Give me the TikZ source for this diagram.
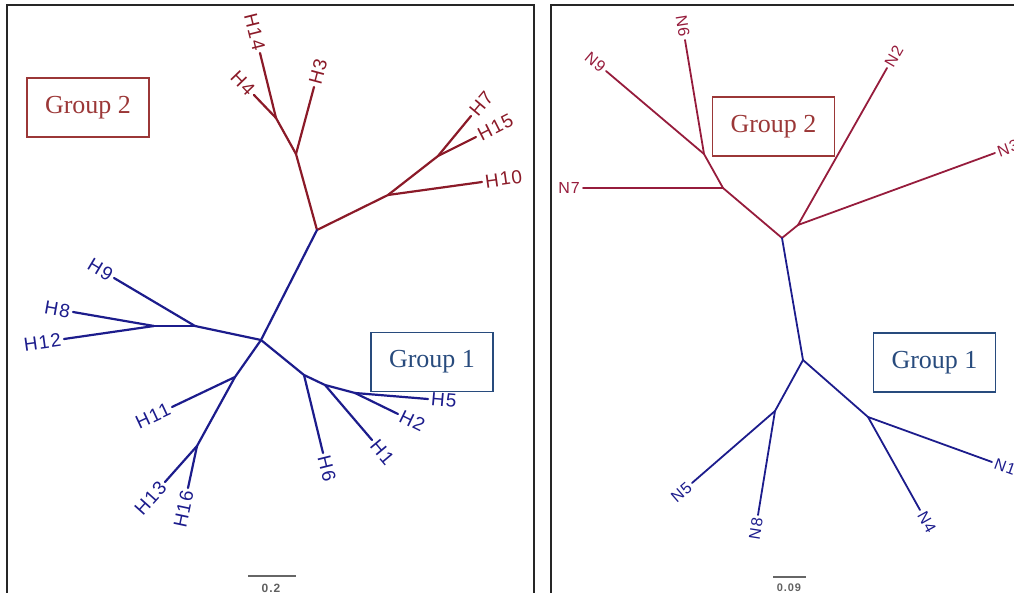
\documentclass[tikz,border=0pt]{standalone}
\usepackage{fontspec}
\setmainfont{Liberation Serif}
\newfontfamily\tipfont[LetterSpace=6]{Liberation Sans}
\newfontfamily\barfont[LetterSpace=8]{Liberation Sans}
\usepackage{tikz}
\usetikzlibrary{positioning,calc}
\definecolor{grpred}{RGB}{139,26,40}
\definecolor{grpredB}{RGB}{150,28,60}
\definecolor{grpblue}{RGB}{28,28,140}
\definecolor{boxred}{RGB}{155,55,55}
\definecolor{boxblue}{RGB}{40,75,125}
\tikzset{
  brR/.style={draw=grpred, line width=2.2pt},
  brB/.style={draw=grpblue, line width=2.2pt},
  brRs/.style={draw=grpredB, line width=1.8pt},
  brBs/.style={draw=grpblue, line width=1.8pt},
  tipL/.style={font=\tipfont\fontsize{19}{19}\selectfont, inner sep=3pt},
  tipS/.style={font=\tipfont\fontsize{16}{16}\selectfont, inner sep=3pt},
  grpbox/.style={draw, line width=1.3pt, minimum width=122pt, minimum height=59pt,
                 inner sep=0pt, font=\fontsize{26}{26}\selectfont},
  grptwo/.style={grpbox, draw=boxred, text=boxred},
  grpone/.style={grpbox, draw=boxblue, text=boxblue},
  sbar/.style={draw=gray!80!black, line width=1.5pt},
  slbl/.style={font=\barfont\bfseries\fontsize{12}{12}\selectfont, text=gray!75!black, inner sep=1pt},
  frame/.style={draw=black!85, line width=2pt}
}

\begin{document}
\begin{tikzpicture}[x=1pt, y=-1pt]
    \useasboundingbox (0,0) rectangle (1014,593);
    % panel frames
    \draw[frame] (7,600) |- (534,5) -- (534,600);
    \draw[frame] (551,600) |- (1020,5);

    % left tree: inner nodes and tips
    \foreach \n/\x/\y in {r2/317/230, a/296/154, b/276/118, d/388/195, e/438/156,
        c/261/340, f/195/326, g/154/326, i/235/377, j/197/446, k/304/375, l/325/385, m/355/393,
        H14/260/53, H4/254/95, H3/314/87, H7/471/116, H15/476/137, H10/482/182,
        H9/114/278, H8/73/312, H12/64/339, H11/172/407, H13/165/482, H16/188/488,
        H6/323/453, H1/372/440, H2/398/414, H5/428/399}
      \coordinate (\n) at (\x,\y);
    \foreach \s/\t in {r2/a, a/b, b/H14, b/H4, a/H3, r2/d, d/e, e/H7, e/H15, d/H10}
      \draw[brR, line cap=round] (\s) -- (\t);
    \foreach \s/\t in {r2/c, c/f, f/H9, f/g, g/H8, g/H12, c/i, i/H11, i/j, j/H13, j/H16,
        c/k, k/H6, k/l, l/H1, l/m, m/H2, m/H5}
      \draw[brB, line cap=round] (\s) -- (\t);
    % tip labels, outward ones then the turned ones
    \foreach \t/\a in {H3/75, H7/50, H15/27, H10/8}
      \node[tipL, text=grpred, anchor=west, rotate=\a] (l\t) at (\t) {\t};
    \foreach \t/\a in {H14/-76, H4/-46}
      \node[tipL, text=grpred, anchor=east, rotate=\a] (l\t) at (\t) {\t};
    \foreach \t/\a in {H6/-76, H1/-50, H2/-26, H5/-5}
      \node[tipL, text=grpblue, anchor=west, rotate=\a] (l\t) at (\t) {\t};
    \foreach \t/\a in {H9/-31, H8/-10, H12/8, H11/25, H13/48, H16/78}
      \node[tipL, text=grpblue, anchor=east, rotate=\a] (l\t) at (\t) {\t};

    \node[grptwo] (g2L) at (88,107.5) {Group 2};
    \node[grpone] (g1L) at (432,362) {Group 1};

    % right tree
    \foreach \n/\x/\y in {rr/782/238, s/798/225, p/704/154, q/723/188, t/803/360, u/775/411, v/868/417,
        N6/685/40, N9/606/71, N7/583/188, N2/887/68, N3/995/153,
        N5/692/483, N8/758/515, N4/920/510, N1/992/462}
      \coordinate (\n) at (\x,\y);
    \foreach \s/\t in {rr/q, q/N7, q/p, p/N9, p/N6, rr/s, s/N2, s/N3}
      \draw[brRs, line cap=round] (\s) -- (\t);
    \foreach \s/\t in {rr/t, t/u, u/N5, u/N8, t/v, v/N4, v/N1}
      \draw[brBs, line cap=round] (\s) -- (\t);
    \foreach \t/\a in {N2/60, N3/20}
      \node[tipS, text=grpredB, anchor=west, rotate=\a] (l\t) at (\t) {\t};
    \foreach \t/\a in {N6/-81, N9/-40, N7/0}
      \node[tipS, text=grpredB, anchor=east, rotate=\a] (l\t) at (\t) {\t};
    \foreach \t/\a in {N4/-61, N1/-20}
      \node[tipS, text=grpblue, anchor=west, rotate=\a] (l\t) at (\t) {\t};
    \foreach \t/\a in {N5/41, N8/81}
      \node[tipS, text=grpblue, anchor=east, rotate=\a] (l\t) at (\t) {\t};

    \node[grptwo] (g2R) at (773.5,126.5) {Group 2};
    \node[grpone] (g1R) at (934.5,362.5) {Group 1};

    % scale bars
    \coordinate (sbLa) at (248,576);
    \coordinate (sbLb) at (296,576);
    \draw[sbar] (sbLa) -- (sbLb);
    \node[slbl] (sbLt) at (271,588) {0.2};
    \coordinate (sbRa) at (773,577);
    \coordinate (sbRb) at (806,577);
    \draw[sbar] (sbRa) -- (sbRb);
    \node[slbl, font=\barfont\bfseries\fontsize{11}{11}\selectfont] (sbRt) at (789,588) {0.09};
  \end{tikzpicture}
\end{document}
